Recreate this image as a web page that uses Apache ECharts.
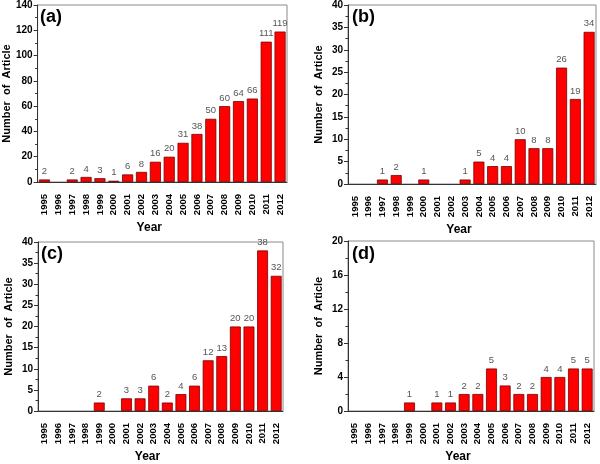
<!DOCTYPE html>
<html>
<head>
<meta charset="utf-8">
<script src="https://cdn.jsdelivr.net/npm/echarts@6/dist/echarts.min.js"></script>
<style>html,body{margin:0;padding:0;background:#fff}#c{width:600px;height:464px}</style>
</head>
<body>
<div id="c"></div>
<script>
const years = ['1995','1996','1997','1998','1999','2000','2001','2002','2003','2004','2005','2006','2007','2008','2009','2010','2011','2012'];
const valuesA = [2,0,2,4,3,1,6,8,16,20,31,38,50,60,64,66,111,119];
const valuesB = [0,0,1,2,0,1,0,0,1,5,4,4,10,8,8,26,19,34];
const valuesC = [0,0,0,0,2,0,3,3,6,2,4,6,12,13,20,20,38,32];
const valuesD = [0,0,0,0,1,0,1,1,2,2,5,3,2,2,4,4,5,5];
const panelLabels = ['(a)','(b)','(c)','(d)'];
const yMax = [140,40,40,20];
const yInterval = [20,5,5,4];
const yName = 'Number  of  Article';
const xName = 'Year';

const series = [valuesA, valuesB, valuesC, valuesD];
const grids = [
  {left:37, top:5, width:250, height:177},
  {left:348, top:5, width:248, height:179},
  {left:38, top:242, width:245, height:175},
  {left:348, top:241, width:246, height:176}
];
const titlePos = [{left:40,top:8},{left:352,top:8},{left:41,top:245},{left:352,top:245}];

const FONT = 'Arial, "Liberation Sans", sans-serif';
const option = {
  animation:false,
  backgroundColor:'#fff',
  title: panelLabels.map((t,i)=>({text:t, left:titlePos[i].left, top:titlePos[i].top, padding:0,
    textStyle:{fontFamily:FONT, fontWeight:'bold', fontSize:18, color:'#000'}})),
  grid: grids.map(g=>Object.assign({show:true, borderColor:'#8a8a8a', borderWidth:1, backgroundColor:'transparent'}, g)),
  xAxis: [],
  yAxis: [],
  series: []
};
for (let i=0;i<4;i++){
  option.xAxis.push({
    type:'category', gridIndex:i, data:years, position:'bottom',
    axisLine:{lineStyle:{color:'#333', width:1}},
    axisTick:{alignWithLabel:true, length:4, lineStyle:{color:'#333'}},
    axisLabel:{rotate:90, interval:0, margin:12, fontFamily:FONT, fontWeight:'bold', fontSize:9.5, color:'#000'},
    name:xName, nameLocation:'middle', nameGap:40,
    nameTextStyle:{fontFamily:FONT, fontWeight:'bold', fontSize:12, color:'#000', padding:[0,26,0,0]}
  });
  option.xAxis.push({
    type:'category', gridIndex:i, data:years, position:'bottom', offset:0,
    axisLine:{show:false},
    axisTick:{alignWithLabel:false, length:2.5, lineStyle:{color:'#333'}},
    axisLabel:{show:false}
  });
  option.yAxis.push({
    type:'value', gridIndex:i, min:0, max:yMax[i], interval:yInterval[i],
    axisLine:{show:true, lineStyle:{color:'#333', width:1}},
    axisTick:{show:true, length:4, lineStyle:{color:'#333'}},
    minorTick:{show:true, splitNumber:2, length:2.5, lineStyle:{color:'#333'}},
    splitLine:{show:false},
    axisLabel:{margin:5, fontFamily:FONT, fontWeight:'bold', fontSize:10, color:'#000'},
    name:yName, nameLocation:'middle', nameGap:24, nameRotate:90,
    nameTextStyle:{fontFamily:FONT, fontWeight:'bold', fontSize:11, color:'#000'}
  });
  option.series.push({
    type:'bar', xAxisIndex:2*i, yAxisIndex:i, data:series[i].map(v=>v>0?v:null), barWidth:'80%',
    itemStyle:{color:'#ff0000', borderColor:'#7a0000', borderWidth:0.8},
    label:{show:true, position:'top', distance:3, fontFamily:FONT, fontSize:9.5, color:'#555',
      formatter:p=>p.value>0?String(p.value):''}
  });
}
const chart = echarts.init(document.getElementById('c'), null, {renderer:'canvas'});
chart.setOption(option);
</script>
</body>
</html>
